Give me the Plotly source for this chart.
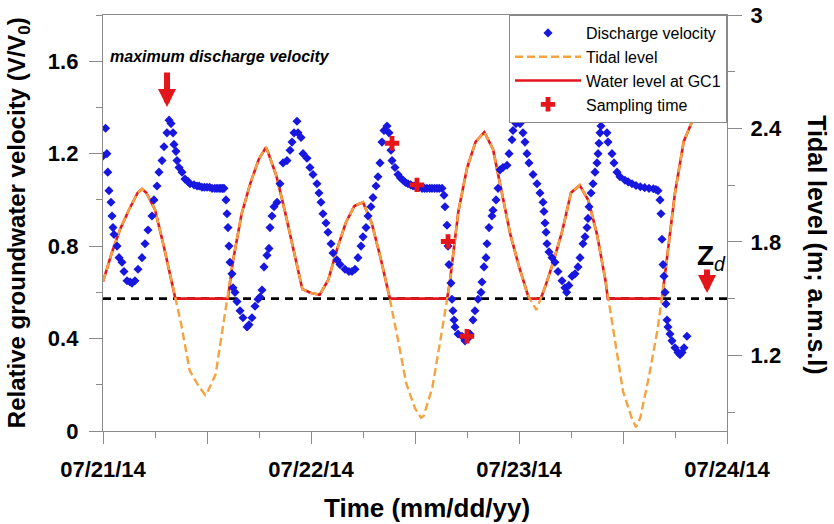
import pandas as pd
import plotly.graph_objects as go

# ---------------- data (hours since 07/21/14 00:00) ----------------
tide_hours = [0, 1, 2, 3, 4, 4.5, 5, 6, 7, 8, 9, 10, 11, 11.8, 12, 13, 14, 15, 16, 17, 18,
              18.8, 19, 20, 21, 22, 23, 24, 25, 26, 27, 28, 29, 30, 31, 32, 33, 34, 35,
              36, 36.7, 37, 38, 39, 40, 41, 42, 43, 44, 45, 46, 47, 48, 49, 50, 51, 52,
              53, 54, 55, 56, 57, 58, 59, 60, 61, 61.5, 62, 63, 64, 65, 66, 67, 68, 68.9]
tide_m = [1.59, 1.74, 1.87, 1.97, 2.06, 2.08, 2.06, 1.97, 1.78, 1.58, 1.37, 1.12, 1.04, 0.99,
          1.00, 1.10, 1.40, 1.70, 1.95, 2.11, 2.24, 2.30, 2.28, 2.15, 1.96, 1.76, 1.55, 1.53,
          1.52, 1.60, 1.76, 1.90, 1.99, 2.01, 1.90, 1.72, 1.52, 1.29, 1.05, 0.92, 0.87, 0.88,
          1.03, 1.30, 1.58, 1.96, 2.19, 2.33, 2.38, 2.29, 2.07, 1.84, 1.67, 1.52, 1.44, 1.56,
          1.70, 1.86, 2.06, 2.10, 2.02, 1.84, 1.59, 1.31, 1.01, 0.87, 0.82, 0.87, 1.09, 1.34,
          1.68, 2.06, 2.33, 2.44, 2.45]

water_hours = [0, 1, 2, 3, 4, 4.5, 5, 6, 7, 8, 8.35, 14.4, 15, 16, 17, 18, 18.8, 19, 20, 21,
               22, 23, 24, 25, 26, 27, 28, 29, 30, 31, 32, 33, 33.1, 39.7, 40, 41, 42, 43, 44,
               45, 46, 47, 48, 49, 49.15, 50.5, 51, 52, 53, 54, 55, 56, 57, 58, 58.25, 64.5,
               65, 66, 67, 68, 68.9]
water_m = [1.59, 1.74, 1.87, 1.97, 2.06, 2.08, 2.06, 1.97, 1.78, 1.58, 1.50, 1.50, 1.70, 1.95,
           2.11, 2.24, 2.30, 2.28, 2.15, 1.96, 1.76, 1.55, 1.53, 1.52, 1.60, 1.76, 1.90, 1.99,
           2.01, 1.90, 1.72, 1.52, 1.50, 1.50, 1.58, 1.96, 2.19, 2.33, 2.38, 2.29, 2.07, 1.84,
           1.67, 1.52, 1.50, 1.50, 1.56, 1.70, 1.86, 2.06, 2.10, 2.02, 1.84, 1.59, 1.50, 1.50,
           1.68, 2.06, 2.33, 2.44, 2.45]

vel_hours = [0.0, 0.3, 0.45, 0.55, 0.69, 0.92, 1.04, 1.15, 1.27, 1.62, 1.85, 2.19, 2.42, 2.77,
             3.12, 3.35, 3.69, 4.04, 4.5, 4.85, 5.19, 5.65, 5.88, 6.23, 6.46, 6.81, 7.04, 7.38,
             7.62, 7.85, 8.08, 8.19, 8.42, 8.54, 8.77, 9.12, 9.46, 9.8, 10.04, 10.5, 10.85,
             11.1, 11.42, 11.7, 12.0, 12.3, 12.58, 12.9, 13.15, 13.4, 13.6, 13.8, 13.96,
             14.19, 14.31, 14.42, 14.54, 14.65, 14.88, 15.0, 15.23, 15.46, 15.81, 16.15,
             16.62, 16.85, 17.19, 17.54, 17.88, 18.12, 18.35, 18.58, 18.92, 19.15, 19.27,
             19.5, 19.73, 20.08, 20.42, 20.77, 21.23, 21.58, 21.81, 22.04, 22.38, 22.5,
             22.85, 23.08, 23.54, 23.88, 24.23, 24.69, 24.92, 25.15, 25.38, 25.73, 25.96,
             26.31, 26.54, 27.0, 27.35, 27.92, 28.38, 28.73, 29.08, 29.42, 29.77, 30.0,
             30.35, 30.58, 30.92, 31.15, 31.5, 31.73, 31.96, 32.19, 32.42, 32.77, 33.0,
             33.23, 33.35, 33.69, 34.04, 34.33, 34.62, 34.9, 35.19, 35.5, 35.77, 36.0, 36.23,
             36.5, 36.81, 37.1, 37.38, 37.7, 37.96, 38.25, 38.54, 38.8, 39.12, 39.35, 39.46,
             39.69, 39.81, 39.92, 40.15, 40.27, 40.38, 40.5, 40.62, 40.96, 41.42, 41.77,
             42.1, 42.35, 42.69, 42.92, 43.27, 43.62, 43.73, 43.96, 44.19, 44.31, 44.54,
             44.88, 45.0, 45.35, 45.58, 45.81, 46.15, 46.62, 46.85, 47.19, 47.31, 47.65,
             47.77, 48.12, 48.46, 48.69, 48.92, 49.15, 49.62, 50.08, 50.42, 50.77, 50.88,
             51.0, 51.12, 51.23, 51.46, 51.81, 52.15, 52.5, 52.96, 53.3, 53.5, 53.75, 54.12,
             54.46, 54.81, 55.04, 55.38, 55.62, 55.85, 55.96, 56.08, 56.31, 56.54, 56.77,
             57.0, 57.12, 57.23, 57.35, 57.46, 57.69, 57.92, 58.15, 58.27, 58.73, 58.96,
             59.31, 59.65, 60.23, 60.6, 61.04, 61.5, 62.0, 62.5, 63.0, 63.5, 63.8, 64.04,
             64.27, 64.38, 64.5, 64.62, 64.73, 64.85, 64.96, 65.08, 65.19, 65.42, 65.65,
             66.0, 66.35, 66.58, 66.81, 67.04, 67.38]
vel_ratio = [1.19, 1.31, 1.20, 1.12, 1.04, 0.99, 0.93, 0.88, 0.85, 0.80, 0.75, 0.73, 0.69, 0.65,
             0.645, 0.64, 0.65, 0.70, 0.75, 0.81, 0.87, 0.93, 1.00, 1.06, 1.12, 1.17, 1.23, 1.29,
             1.345, 1.33, 1.29, 1.24, 1.21, 1.17, 1.14, 1.12, 1.09, 1.08, 1.07, 1.065, 1.06,
             1.06, 1.055, 1.055, 1.055, 1.055, 1.05, 1.05, 1.05, 1.05, 1.05, 1.05, 1.05,
             1.00, 0.94, 0.88, 0.80, 0.73, 0.68, 0.62, 0.60, 0.56, 0.52, 0.49,
             0.45, 0.46, 0.49, 0.54, 0.57, 0.58, 0.61, 0.71, 0.76, 0.79, 0.88,
             0.93, 0.97, 0.99, 1.07, 1.16, 1.17, 1.215, 1.25, 1.29, 1.34, 1.29,
             1.27, 1.20, 1.18, 1.14, 1.11, 1.07, 1.03, 0.99, 0.94, 0.90, 0.86,
             0.81, 0.77, 0.74, 0.72, 0.70, 0.69, 0.69, 0.70, 0.75, 0.80, 0.84,
             0.88, 0.93, 0.97, 1.01, 1.06, 1.10, 1.16, 1.25, 1.30, 1.32, 1.29,
             1.215, 1.17, 1.14, 1.11, 1.095, 1.085, 1.075, 1.07, 1.065, 1.06, 1.06, 1.055,
             1.055, 1.05, 1.05, 1.05, 1.05, 1.05, 1.05, 1.05, 1.05, 1.05, 1.02, 0.97,
             0.89, 0.80, 0.72, 0.64, 0.57, 0.52, 0.48, 0.45, 0.42, 0.41, 0.39,
             0.40, 0.42, 0.48, 0.52, 0.57, 0.60, 0.645, 0.71, 0.75, 0.81, 0.88,
             0.93, 0.955, 1.00, 1.05, 1.13, 1.14, 1.15, 1.20, 1.26, 1.30, 1.33,
             1.37, 1.33, 1.29, 1.25, 1.20, 1.16, 1.11, 1.07, 1.03, 0.99, 0.95,
             0.90, 0.86, 0.81, 0.775, 0.75, 0.73, 0.69, 0.65, 0.62, 0.60, 0.63, 0.67,
             0.68, 0.71, 0.75, 0.81, 0.84, 0.88, 0.92, 0.97, 1.03, 1.07, 1.12,
             1.16, 1.20, 1.245, 1.29, 1.32, 1.375, 1.355, 1.29, 1.25, 1.20, 1.16,
             1.12, 1.10, 1.085, 1.078, 1.07, 1.062, 1.057, 1.053, 1.05, 1.048, 1.045, 1.04,
             1.00, 0.94, 0.83, 0.72, 0.67, 0.60, 0.55, 0.48, 0.45, 0.42, 0.39,
             0.36, 0.34, 0.33, 0.34, 0.36, 0.41]

sample_hours = [33.35, 36.23, 39.81, 42.0]
sample_ratio = [1.245, 1.065, 0.82, 0.41]

zd_level = 1.5  # m a.m.s.l.

x_tick_hours = [0, 12, 24, 36, 48, 60, 72]
x_tick_text = ["07/21/14", " ", "07/22/14", " ", "07/23/14", " ", "07/24/14"]
vel_ticks = [0, 0.4, 0.8, 1.2, 1.6]
vel_tick_text = ["0", "0.4", "0.8", "1.2", "1.6"]
tide_ticks = [1.2, 1.8, 2.4, 3.0]
tide_tick_text = ["1.2", "1.8", "2.4", "3"]

# ---------------- build ----------------
base = pd.Timestamp("2014-07-21 00:00")
to_t = lambda hrs: [base + pd.Timedelta(hours=h) for h in hrs]

BLUE = "#1717e0"
ORANGE = "#f4a340"
RED = "#e3161b"
GRAY = "#8a8a8a"
FONT = "Liberation Sans, Arial, sans-serif"

fig = go.Figure()
fig.add_trace(go.Scatter(x=to_t(water_hours), y=water_m, mode="lines", name="Water level at GC1",
                         line=dict(color=RED, width=2.6), yaxis="y", legendrank=3))
fig.add_trace(go.Scatter(x=to_t(tide_hours), y=tide_m, mode="lines", name="Tidal level",
                         line=dict(color=ORANGE, width=2.4, dash="8px,4px"), yaxis="y", legendrank=2))
fig.add_trace(go.Scatter(x=to_t(vel_hours), y=vel_ratio, mode="markers", name="Discharge velocity",
                         marker=dict(symbol="diamond", size=7, color=BLUE), yaxis="y2", legendrank=1))
fig.add_trace(go.Scatter(x=to_t(sample_hours), y=sample_ratio, mode="markers", name="Sampling time",
                         marker=dict(symbol="cross", size=12, color=RED), yaxis="y2", legendrank=4))

tick_font = dict(family=FONT, size=22, color="black", weight="bold")

fig.update_layout(
    width=834, height=524,
    margin=dict(l=103, r=107, t=15, b=93, autoexpand=False),
    paper_bgcolor="white", plot_bgcolor="white",
    font=dict(family=FONT, color="black"),
    showlegend=True,
    legend=dict(x=1, y=1, xanchor="right", yanchor="top", bgcolor="white",
                bordercolor=GRAY, borderwidth=1, font=dict(family=FONT, size=16, color="black"),
                tracegroupgap=0, itemwidth=66),
    xaxis=dict(type="date", range=[base, base + pd.Timedelta(hours=72)], automargin=False,
               tickmode="array", tickvals=to_t(x_tick_hours), ticktext=x_tick_text,
               ticks="outside", ticklen=12, tickwidth=1.3, tickcolor=GRAY,
               showline=True, linecolor=GRAY, linewidth=1.3, mirror=True,
               showgrid=False, zeroline=False, tickfont=tick_font, ticklabelstandoff=6,
               minor=dict(ticks="outside", ticklen=6, tickwidth=1.3, tickcolor=GRAY,
                          dtick=6 * 3600 * 1000, tick0=base, showgrid=False)),
    yaxis=dict(side="right", range=[0.8, 3.0], tickmode="array", tickvals=tide_ticks,
               ticktext=tide_tick_text, ticks="outside", ticklen=14, tickwidth=1.3,
               tickcolor=GRAY, showline=True, linecolor=GRAY, linewidth=1.3, automargin=False,
               showgrid=False, zeroline=False, tickfont=tick_font, ticklabelstandoff=4,
               minor=dict(ticks="outside", ticklen=7, tickwidth=1.3, tickcolor=GRAY,
                          dtick=0.3, tick0=0.9, showgrid=False)),
    yaxis2=dict(overlaying="y", side="left", range=[0, 1.8], tickmode="array",
                tickvals=vel_ticks, ticktext=vel_tick_text, ticks="outside", ticklen=13,
                tickwidth=1.3, tickcolor=GRAY, showline=True, linecolor=GRAY, linewidth=1.3,
                showgrid=False, zeroline=False, tickfont=tick_font, ticklabelstandoff=6,
                automargin=False,
                minor=dict(ticks="outside", ticklen=6, tickwidth=1.3, tickcolor=GRAY,
                           dtick=0.2, tick0=0, showgrid=False)),
    shapes=[dict(type="line", xref="paper", x0=0, x1=1, yref="y", y0=zd_level, y1=zd_level,
                 line=dict(color="black", width=2.6, dash="8px,6px"), layer="below")],
)

C = dict(xref="paper", yref="paper", xanchor="center", yanchor="middle", showarrow=False)
annots = [
    dict(C, text="<b><i>maximum discharge velocity</i></b>", x=0.1875, y=0.901,
         font=dict(family=FONT, size=16, color="black")),
    dict(xref="paper", yref="paper", text="", x=0.1026, y=0.779, ax=0, ay=-36,
         showarrow=True, arrowhead=2, arrowsize=0.6, arrowwidth=6, arrowcolor=RED),
    dict(C, text="<b>Z</b><sub><i>d</i></sub>", x=0.975, y=0.418,
         font=dict(family=FONT, size=28, color="black")),
    dict(xref="paper", yref="paper", text="", x=0.968, y=0.332, ax=0, ay=-25,
         showarrow=True, arrowhead=2, arrowsize=0.6, arrowwidth=6, arrowcolor=RED),
    dict(C, text="<b>Relative groundwater velocity (V/V<sub>0</sub>)</b>",
         x=-0.136, y=0.5, textangle=-90, font=dict(family=FONT, size=24, color="black")),
    dict(C, text="<b>Tidal level (m; a.m.s.l)</b>",
         x=1.144, y=0.447, textangle=90, font=dict(family=FONT, size=25, color="black")),
    dict(C, text="<b>Time (mm/dd/yy)</b>",
         x=0.519, y=-0.185, font=dict(family=FONT, size=26, color="black")),
]
fig.update_layout(annotations=annots)

fig.write_html("out.html", config={"displayModeBar": False},
               post_script="document.body.style.margin='0px';")
